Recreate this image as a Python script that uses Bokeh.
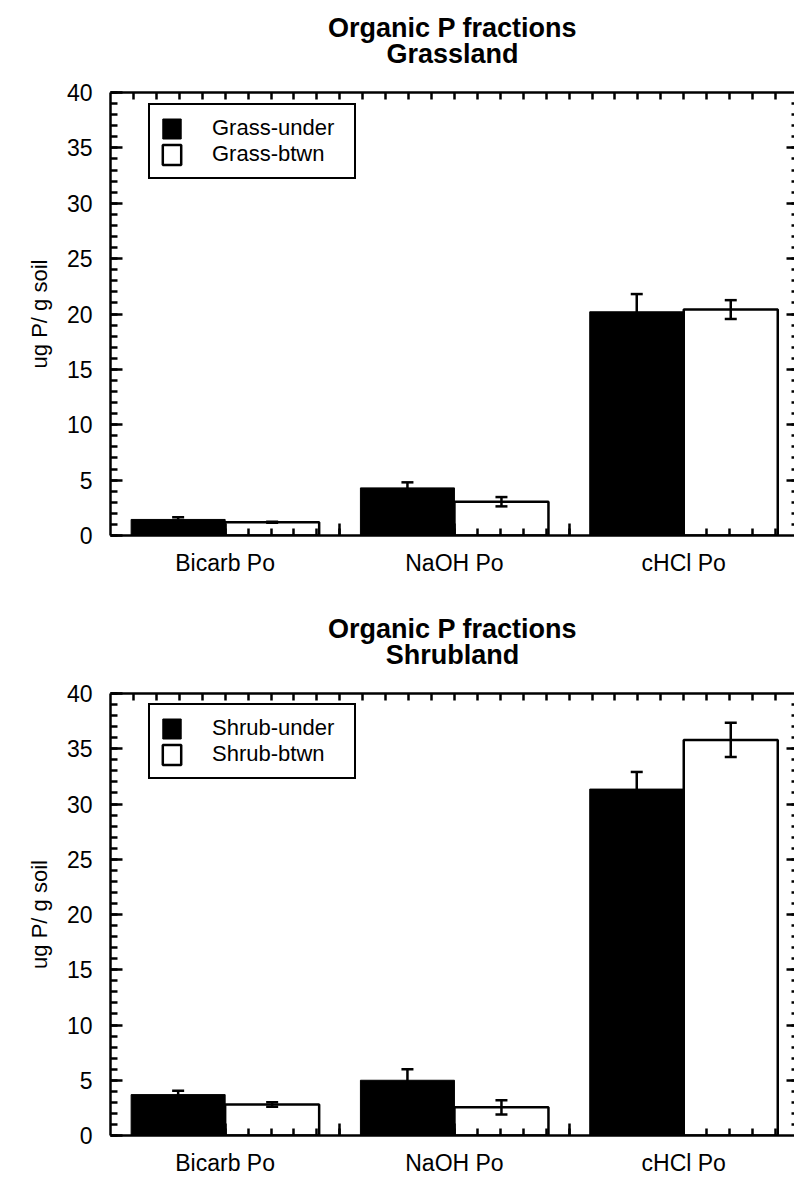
from bokeh.plotting import figure
from bokeh.models import (Range1d, LinearAxis, FixedTicker, SingleIntervalTicker, Title,
                          Whisker, TeeHead, ColumnDataSource, Legend, LegendItem)
from bokeh.layouts import column
from bokeh.transform import dodge
from bokeh.embed import file_html
from bokeh.resources import INLINE

# ---------------- data ----------------
categories = ["Bicarb Po", "NaOH Po", "cHCl Po"]
y_tick_interval = 5
y_max = 40
y_label = "ug P/ g soil"
main_title = "Organic P fractions"

grass_title = "Grassland"
grass_names = ["Grass-under", "Grass-btwn"]
grass_under = [1.45, 4.3, 20.2]
grass_under_err = [0.2, 0.5, 1.6]
grass_btwn = [1.2, 3.05, 20.4]
grass_btwn_err = [0.05, 0.42, 0.85]

shrub_title = "Shrubland"
shrub_names = ["Shrub-under", "Shrub-btwn"]
shrub_under = [3.7, 5.0, 31.35]
shrub_under_err = [0.35, 1.0, 1.55]
shrub_btwn = [2.8, 2.55, 35.8]
shrub_btwn_err = [0.2, 0.65, 1.55]

FONT = "Liberation Sans"
TXT = "23px"
TITLE_SIZE = "27px"
LW = 2.5
BAR_W = 0.41


def make_panel(sub_title, names, under, under_err, btwn, btwn_err, height, bottom_border):
    n = len(categories)
    centers = [i + 0.5 for i in range(n)]
    src = ColumnDataSource(dict(
        x=centers,
        under=under, btwn=btwn,
        u_hi=[v + e for v, e in zip(under, under_err)],
        u_lo=[v - e for v, e in zip(under, under_err)],
        b_hi=[v + e for v, e in zip(btwn, btwn_err)],
        b_lo=[v - e for v, e in zip(btwn, btwn_err)],
    ))

    p = figure(width=794, height=height, title=None,
               x_range=Range1d(0, 2.983), y_range=Range1d(0, y_max),
               output_backend="svg", toolbar_location=None,
               min_border_left=110, min_border_right=0,
               min_border_top=92, min_border_bottom=bottom_border)
    p.outline_line_color = None
    p.xgrid.visible = False
    p.ygrid.visible = False
    p.background_fill_color = "white"
    p.border_fill_color = "white"

    # bars
    r_w = p.vbar(x=dodge("x", BAR_W / 2, range=p.x_range), top="btwn", width=BAR_W, bottom=0,
                 source=src, fill_color="white", line_color="black", line_width=LW)
    r_b = p.vbar(x=dodge("x", -BAR_W / 2, range=p.x_range), top="under", width=BAR_W, bottom=0,
                 source=src, fill_color="black", line_color="black", line_width=1, level="overlay")

    for base_off, hi, lo in ((-BAR_W / 2, "u_hi", "u_lo"), (BAR_W / 2, "b_hi", "b_lo")):
        w = Whisker(base=dodge("x", base_off, range=p.x_range), upper=hi, lower=lo, source=src,
                    line_color="black", line_width=LW, level="annotation",
                    upper_head=TeeHead(size=12, line_width=LW, line_color="black"),
                    lower_head=TeeHead(size=12, line_width=LW, line_color="black"))
        p.add_layout(w)

    # bottom axis: labels at category centres, long ticks at category boundaries
    minor_x = [round(k * 0.1, 2) for k in range(1, 30)]
    xa = p.xaxis[0]
    xa.ticker = FixedTicker(ticks=[0.5, 1.0, 1.5, 2.0, 2.5], minor_ticks=minor_x)
    xa.major_label_overrides = {0.5: categories[0], 1.0: "", 1.5: categories[1], 2.0: "", 2.5: categories[2]}
    xa.major_tick_in = 12
    xa.major_tick_out = 0
    xa.minor_tick_in = 7
    xa.minor_tick_out = 0
    xa.axis_line_width = LW
    xa.major_tick_line_width = LW
    xa.minor_tick_line_width = LW
    xa.major_label_text_font = FONT
    xa.major_label_text_font_size = TXT
    xa.major_label_text_color = "black"
    xa.major_label_standoff = 14

    # left axis
    ya = p.yaxis[0]
    ya.ticker = SingleIntervalTicker(interval=y_tick_interval, num_minor_ticks=5)
    ya.major_tick_in = 12
    ya.major_tick_out = 0
    ya.minor_tick_in = 7
    ya.minor_tick_out = 0
    ya.axis_line_width = LW
    ya.major_tick_line_width = LW
    ya.minor_tick_line_width = LW
    ya.major_label_text_font = FONT
    ya.major_label_text_font_size = TXT
    ya.major_label_text_color = "black"
    ya.major_label_standoff = 18
    ya.axis_label = y_label
    ya.axis_label_text_font = FONT
    ya.axis_label_text_font_size = "22px"
    ya.axis_label_text_font_style = "normal"
    ya.axis_label_text_color = "black"
    ya.axis_label_standoff = 12

    # right side: tick marks only (no labels)
    minor_y = list(range(1, y_max))
    major_y = list(range(y_tick_interval, y_max, y_tick_interval))
    for ticks, length in ((minor_y, 3), (major_y, 8)):
        ra = LinearAxis(ticker=FixedTicker(ticks=[], minor_ticks=ticks),
                        axis_line_color=None, major_label_standoff=0,
                        major_tick_in=0, major_tick_out=0,
                        minor_tick_in=length, minor_tick_out=0, minor_tick_line_width=LW)
        p.add_layout(ra, "right")

    # top axis: tick marks only; the sub-title sits on it as its axis label
    ta = LinearAxis(ticker=FixedTicker(ticks=[], minor_ticks=minor_x),
                    axis_line_width=LW, major_label_standoff=0,
                    major_tick_in=0, major_tick_out=0, minor_tick_in=7, minor_tick_out=0,
                    minor_tick_line_width=LW,
                    axis_label=sub_title, axis_label_standoff=24,
                    axis_label_text_font=FONT, axis_label_text_font_size=TITLE_SIZE,
                    axis_label_text_font_style="bold", axis_label_text_color="black")
    p.add_layout(ta, "above")

    p.add_layout(Title(text=main_title, align="center", text_font=FONT,
                       text_font_size=TITLE_SIZE, text_font_style="bold", text_color="black",
                       standoff=-14), "above")

    legend = Legend(items=[LegendItem(label=names[0], renderers=[r_b]),
                           LegendItem(label=names[1], renderers=[r_w])],
                    location=(38, 356), orientation="vertical",
                    padding=10, spacing=0, margin=0,
                    glyph_width=23, glyph_height=25, label_height=25, label_width=132,
                    label_standoff=29,
                    label_text_font=FONT, label_text_font_size="22px", label_text_color="black",
                    border_line_color="black", border_line_width=2, border_line_alpha=1.0,
                    background_fill_color="white", background_fill_alpha=1.0)
    p.add_layout(legend)
    return p


p1 = make_panel(grass_title, grass_names, grass_under, grass_under_err, grass_btwn, grass_btwn_err,
                height=601, bottom_border=66)
p2 = make_panel(shrub_title, shrub_names, shrub_under, shrub_under_err, shrub_btwn, shrub_btwn_err,
                height=577, bottom_border=42)

layout = column(p1, p2, spacing=0)
open("out.html", "w").write(file_html(layout, INLINE))
